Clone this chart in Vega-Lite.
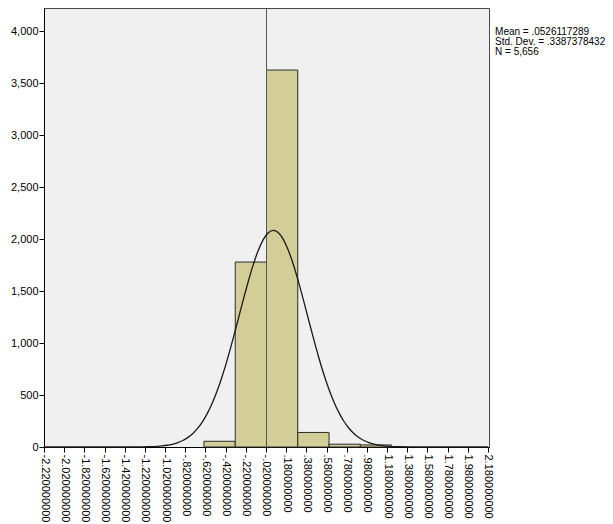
{
  "$schema": "https://vega.github.io/schema/vega-lite/v6.json",
  "width": 445,
  "height": 439,
  "autosize": {"type": "none"},
  "padding": {"left": 44, "top": 8, "right": 124, "bottom": 77},
  "background": "white",
  "config": {
    "font": "Liberation Sans",
    "view": {"fill": "#F0F0F0", "stroke": "#4a4a4a", "strokeWidth": 1},
    "axis": {"labelOverlap": false, "grid": false, "title": null, "labelColor": "#000", "domainColor": "#000", "tickColor": "#000", "labelFontSize": 11, "tickSize": 5}
  },
  "datasets": {
    "bins": [
      {"x0": -0.635, "x1": -0.325, "count": 55},
      {"x0": -0.325, "x1": -0.015, "count": 1780},
      {"x0": -0.015, "x1": 0.295, "count": 3628},
      {"x0": 0.295, "x1": 0.605, "count": 140},
      {"x0": 0.605, "x1": 0.915, "count": 27},
      {"x0": 0.915, "x1": 1.225, "count": 20}
    ],
    "curve": [
      {"x": -2.22, "y": 0}, {"x": -1.5, "y": 0.06}, {"x": -1.25, "y": 1.3}, {"x": -1.2, "y": 2.2},
      {"x": -1.15, "y": 3.8}, {"x": -1.1, "y": 6.4}, {"x": -1.05, "y": 10.4}, {"x": -1.0, "y": 16.7},
      {"x": -0.95, "y": 26.1}, {"x": -0.9, "y": 39.9}, {"x": -0.85, "y": 59.8}, {"x": -0.8, "y": 87.8},
      {"x": -0.75, "y": 125.8}, {"x": -0.7, "y": 176.6}, {"x": -0.65, "y": 242.5}, {"x": -0.6, "y": 325.9},
      {"x": -0.55, "y": 428.3}, {"x": -0.5, "y": 550.9}, {"x": -0.45, "y": 693.5}, {"x": -0.4, "y": 853.6},
      {"x": -0.35, "y": 1028.7}, {"x": -0.3, "y": 1212.8}, {"x": -0.25, "y": 1399.0}, {"x": -0.2, "y": 1578.8},
      {"x": -0.15, "y": 1743.5}, {"x": -0.1, "y": 1883.8}, {"x": -0.05, "y": 1991.4}, {"x": 0.0, "y": 2060.0},
      {"x": 0.0526, "y": 2085.0}, {"x": 0.1, "y": 2064.7}, {"x": 0.15, "y": 2000.6}, {"x": 0.2, "y": 1896.5},
      {"x": 0.25, "y": 1759.3}, {"x": 0.3, "y": 1596.9}, {"x": 0.35, "y": 1418.0}, {"x": 0.4, "y": 1232.2},
      {"x": 0.45, "y": 1047.5}, {"x": 0.5, "y": 871.5}, {"x": 0.55, "y": 709.1}, {"x": 0.6, "y": 564.8},
      {"x": 0.65, "y": 440.1}, {"x": 0.7, "y": 335.5}, {"x": 0.75, "y": 250.4}, {"x": 0.8, "y": 182.7},
      {"x": 0.85, "y": 130.5}, {"x": 0.9, "y": 91.2}, {"x": 0.95, "y": 62.3}, {"x": 1.0, "y": 41.7},
      {"x": 1.05, "y": 27.3}, {"x": 1.1, "y": 17.5}, {"x": 1.15, "y": 10.9}, {"x": 1.2, "y": 6.7},
      {"x": 1.25, "y": 4.0}, {"x": 1.3, "y": 2.4}, {"x": 1.4, "y": 0.76}, {"x": 1.5, "y": 0.23},
      {"x": 2.18, "y": 0}
    ],
    "stats": [
      {"sx": 2.25, "sy": 4045, "line1": "Mean = .0526117289", "line2": "Std. Dev. = .3387378432", "line3": "N = 5,656"}
    ],
    "ref": [{"rx": -0.015}]
  },
  "layer": [
    {
      "data": {"name": "bins"},
      "mark": {"type": "rect", "fill": "#D3CE97", "stroke": "#2b2b2b", "strokeWidth": 1},
      "encoding": {
        "x": {
          "field": "x0", "type": "quantitative",
          "scale": {"domain": [-2.22, 2.19], "nice": false, "zero": false},
          "axis": {
            "values": [-2.22, -2.02, -1.82, -1.62, -1.42, -1.22, -1.02, -0.82, -0.62, -0.42, -0.22, -0.02, 0.18, 0.38, 0.58, 0.78, 0.98, 1.18, 1.38, 1.58, 1.78, 1.98, 2.18],
            "tickCount": 40,
            "labelExpr": "replace(replace(format(datum.value, '.9f'), '\u2212', '-'), '0.', '.')",
            "labelAngle": 90, "labelAlign": "left", "labelBaseline": "middle",
            "labelPadding": 2, "labelOverlap": false, "labelFlush": false
          }
        },
        "x2": {"field": "x1"},
        "y": {
          "field": "count", "type": "quantitative",
          "scale": {"domain": [0, 4225], "nice": false},
          "axis": {
            "values": [0, 500, 1000, 1500, 2000, 2500, 3000, 3500, 4000],
            "tickCount": 20,
            "labelExpr": "format(datum.value, ',d')", "labelPadding": 1
          }
        },
        "y2": {"datum": 0}
      }
    },
    {
      "data": {"name": "ref"},
      "mark": {"type": "rule", "color": "#555555", "strokeWidth": 1},
      "encoding": {"x": {"field": "rx", "type": "quantitative"}}
    },
    {
      "data": {"name": "curve"},
      "mark": {"type": "line", "color": "#1a1a1a", "strokeWidth": 1.3, "interpolate": "monotone"},
      "encoding": {
        "x": {"field": "x", "type": "quantitative"},
        "y": {"field": "y", "type": "quantitative"}
      }
    },
    {
      "data": {"name": "stats"},
      "mark": {"type": "text", "align": "left", "baseline": "top", "fontSize": 10, "color": "#000"},
      "encoding": {"x": {"field": "sx", "type": "quantitative"}, "y": {"field": "sy", "type": "quantitative"}, "text": {"field": "line1"}}
    },
    {
      "data": {"name": "stats"},
      "mark": {"type": "text", "align": "left", "baseline": "top", "fontSize": 10, "color": "#000", "dy": 10},
      "encoding": {"x": {"field": "sx", "type": "quantitative"}, "y": {"field": "sy", "type": "quantitative"}, "text": {"field": "line2"}}
    },
    {
      "data": {"name": "stats"},
      "mark": {"type": "text", "align": "left", "baseline": "top", "fontSize": 10, "color": "#000", "dy": 20},
      "encoding": {"x": {"field": "sx", "type": "quantitative"}, "y": {"field": "sy", "type": "quantitative"}, "text": {"field": "line3"}}
    }
  ]
}
